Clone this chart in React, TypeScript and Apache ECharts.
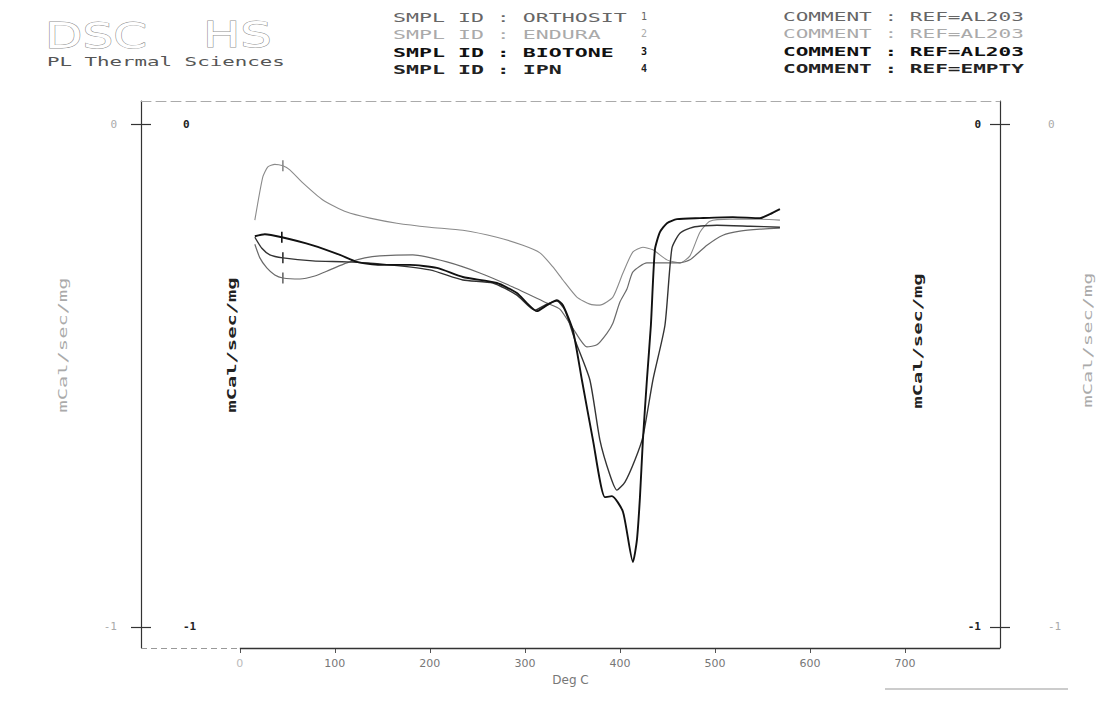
import React, { useEffect, useRef } from "react";
import * as echarts from "echarts";

// ---- Data ----
const sampleIds = ["ORTHOSIT", "ENDURA", "BIOTONE", "IPN"];
const sampleNums = ["1", "2", "3", "4"];
const comments = ["REF=AL203", "REF=AL203", "REF=AL203", "REF=EMPTY"];
const xTicks = [0, 100, 200, 300, 400, 500, 600, 700];
const yTicks = [-1, 0];

const orthositT = [15.8, 21.1, 28.4, 36.8, 45.3, 63.2, 78.9, 94.7, 112.6, 131.6, 147.4, 182.1, 217.9, 252.6, 287.4, 323.2, 336.8, 350.5, 365.3, 375.8, 386.3, 392.6, 400, 407.4, 413.7, 428.4, 449.5, 463.2, 473.7, 491.6, 508.4, 526.3, 547.4, 568.4];
const orthositV = [-0.239, -0.266, -0.286, -0.3, -0.306, -0.308, -0.302, -0.29, -0.276, -0.266, -0.262, -0.26, -0.274, -0.296, -0.324, -0.356, -0.368, -0.406, -0.443, -0.439, -0.416, -0.396, -0.354, -0.328, -0.294, -0.276, -0.276, -0.276, -0.27, -0.241, -0.221, -0.213, -0.209, -0.207];

const enduraT = [15.8, 24.2, 29.5, 36.8, 45.3, 52.6, 66.3, 87.4, 112.6, 136.8, 165.3, 200, 234.7, 270.5, 297.9, 315.8, 329.5, 340, 354.7, 368.4, 378.9, 392.6, 403.2, 413.7, 424.2, 434.7, 449.5, 463.2, 473.7, 484.2, 494.7, 515.8, 547.4, 568.4];
const enduraV = [-0.191, -0.105, -0.085, -0.08, -0.083, -0.091, -0.117, -0.151, -0.175, -0.187, -0.197, -0.205, -0.211, -0.225, -0.241, -0.256, -0.284, -0.31, -0.344, -0.358, -0.36, -0.344, -0.296, -0.254, -0.245, -0.25, -0.27, -0.276, -0.262, -0.215, -0.193, -0.189, -0.189, -0.191];

const biotoneT = [15.8, 26.3, 44.2, 76.8, 105.3, 123.2, 147.4, 178.9, 207.4, 234.7, 270.5, 291.6, 302.1, 312.6, 323.2, 333.7, 340, 350.5, 360, 371.6, 384.2, 391.6, 403.2, 413.7, 417.9, 421.1, 424.2, 428.4, 432.6, 436.8, 442.1, 449.5, 460, 484.2, 518.9, 547.4, 557.9, 568.4];
const biotoneV = [-0.223, -0.219, -0.225, -0.241, -0.26, -0.274, -0.28, -0.28, -0.286, -0.304, -0.316, -0.336, -0.356, -0.372, -0.36, -0.35, -0.36, -0.41, -0.509, -0.628, -0.742, -0.74, -0.771, -0.871, -0.827, -0.742, -0.628, -0.509, -0.4, -0.25, -0.215, -0.197, -0.189, -0.187, -0.185, -0.187, -0.179, -0.169];

const ipnT = [15.8, 23.2, 31.6, 45.3, 76.8, 112.6, 147.4, 200, 234.7, 266.3, 291.6, 310.5, 323.2, 333.7, 342.1, 352.6, 368.4, 378.9, 389.5, 396.8, 405.3, 415.8, 424.2, 434.7, 447.4, 454.7, 463.2, 476.8, 502.1, 536.8, 568.4];
const ipnV = [-0.225, -0.247, -0.26, -0.266, -0.272, -0.274, -0.278, -0.29, -0.31, -0.316, -0.34, -0.37, -0.358, -0.352, -0.37, -0.429, -0.509, -0.628, -0.698, -0.728, -0.712, -0.668, -0.622, -0.509, -0.4, -0.247, -0.217, -0.205, -0.201, -0.203, -0.205];

// ---- Layout / style ----
const X_MIN = -104;
const X_MAX = 800;
const Y_MIN = -1.042;
const Y_MAX = 0.046;
const MARK_T = 45;
const mono = '"DejaVu Sans Mono", monospace';
const sans = '"DejaVu Sans", sans-serif';

const curves = [
  { name: sampleIds[0], t: orthositT, v: orthositV, color: "#6a6a6a", width: 1.2, z: 3 },
  { name: sampleIds[1], t: enduraT, v: enduraV, color: "#8a8a8a", width: 1.1, z: 2 },
  { name: sampleIds[2], t: biotoneT, v: biotoneV, color: "#111111", width: 1.9, z: 5 },
  { name: sampleIds[3], t: ipnT, v: ipnV, color: "#333333", width: 1.4, z: 4 },
];

type TOpts = {
  sx?: number; rot?: number; fill?: string; weight?: string; size?: number;
  family?: string; align?: string; stroke?: string; lw?: number;
};
function txt(text: string, x: number, y: number, o: TOpts = {}) {
  const style: any = {
    text,
    fill: o.fill ?? "#555",
    font: `${o.weight ?? "normal"} ${o.size ?? 13}px ${o.family ?? mono}`,
    align: o.align ?? "left",
    verticalAlign: "middle",
  };
  if (o.stroke) {
    style.stroke = o.stroke;
    style.lineWidth = o.lw ?? 1;
  }
  return {
    type: "text",
    x,
    y,
    scaleX: o.sx ?? 1,
    rotation: o.rot ?? 0,
    silent: true,
    style,
  };
}

function yAxisDef(position: string, inside: boolean, color: string, bold: boolean, margin: number, showLine: boolean) {
  return {
    type: "value",
    position,
    min: Y_MIN,
    max: Y_MAX,
    splitLine: { show: false },
    axisLine: { show: showLine, onZero: false, lineStyle: { color: "#333", width: 1.2 } },
    axisTick: { show: true, inside, length: 10, customValues: yTicks, lineStyle: { color: "#333", width: 1.2 } },
    axisLabel: {
      inside,
      margin,
      customValues: yTicks,
      color,
      fontWeight: bold ? "bold" : "normal",
      fontSize: 11,
      fontFamily: mono,
    },
  };
}

export default function App() {
  const ref = useRef<HTMLDivElement>(null);

  useEffect(() => {
    if (!ref.current) return;
    const chart = echarts.init(ref.current, undefined, { renderer: "svg" });

    const rowY = [17, 34, 52, 69];
    const rowColor = ["#666", "#aaa", "#111", "#222"];
    const rowWeight = ["normal", "normal", "bold", "bold"];

    const graphic: any[] = [
      txt("DSC", 45, 35, { size: 36, family: sans, sx: 1.35, fill: "#fff", stroke: "#909090", lw: 0.9 }),
      txt("HS", 203, 35, { size: 36, family: sans, sx: 1.38, fill: "#fff", stroke: "#909090", lw: 0.9 }),
      txt("PL Thermal Sciences", 47, 62, { size: 13, sx: 1.6, fill: "#555" }),
      { type: "line", silent: true, shape: { x1: 885, y1: 689, x2: 1068, y2: 689 }, style: { stroke: "#999", lineWidth: 1 } },
      txt("mCal/sec/mg", 63, 345, { rot: Math.PI / 2, align: "center", size: 12, sx: 1.7, fill: "#aaa" }),
      txt("mCal/sec/mg", 232, 345, { rot: Math.PI / 2, align: "center", size: 12, sx: 1.7, fill: "#222", weight: "bold" }),
      txt("mCal/sec/mg", 918, 341, { rot: Math.PI / 2, align: "center", size: 12, sx: 1.7, fill: "#222", weight: "bold" }),
      txt("mCal/sec/mg", 1088, 340, { rot: Math.PI / 2, align: "center", size: 12, sx: 1.7, fill: "#aaa" }),
    ];
    for (let i = 0; i < 4; i++) {
      const o = { fill: rowColor[i], weight: rowWeight[i], size: 13 };
      graphic.push(txt(`SMPL ID : ${sampleIds[i]}`, 393, rowY[i], { ...o, sx: 1.66 }));
      graphic.push(txt(sampleNums[i], 641, rowY[i] - 1, { ...o, size: 10 }));
      graphic.push(txt(`COMMENT : ${comments[i]}`, 783, rowY[i], { ...o, sx: 1.62 }));
    }

    const series: any[] = curves.map((c) => {
      const data = c.t.map((t, i) => [t, c.v[i]]);
      let mi = 0;
      c.t.forEach((t, i) => {
        if (Math.abs(t - MARK_T) < Math.abs(c.t[mi] - MARK_T)) mi = i;
      });
      return {
        type: "line",
        name: c.name,
        data,
        showSymbol: false,
        smooth: 0.2,
        z: c.z,
        lineStyle: { color: c.color, width: c.width },
        itemStyle: { color: c.color },
        markPoint: {
          silent: true,
          symbol: "rect",
          symbolSize: [1.6, 11],
          itemStyle: { color: c.color },
          label: { show: false },
          data: [{ coord: data[mi] }],
        },
      };
    });

    // bottom frame: dashed left of 0 °C, solid from 0 °C on
    series[0].markLine = {
      silent: true,
      symbol: "none",
      label: { show: false },
      animation: false,
      data: [
        [
          { coord: [X_MIN, Y_MIN], lineStyle: { color: "#999", width: 1, type: [6, 4] } },
          { coord: [xTicks[0], Y_MIN] },
        ],
        [
          { coord: [xTicks[0], Y_MIN], lineStyle: { color: "#333", width: 1.3, type: "solid" } },
          { coord: [X_MAX, Y_MIN] },
        ],
      ],
    };

    chart.setOption({
      animation: false,
      backgroundColor: "#fff",
      grid: { left: 141, right: 96, top: 101, bottom: 56, containLabel: false },
      xAxis: [
        {
          type: "value",
          position: "bottom",
          min: X_MIN,
          max: X_MAX,
          splitLine: { show: false },
          axisLine: { show: false, onZero: false },
          axisTick: { customValues: xTicks, length: 5, lineStyle: { color: "#555" } },
          axisLabel: {
            customValues: xTicks,
            margin: 10,
            fontSize: 11,
            fontFamily: sans,
            color: (v: any) => (Number(v) === 0 ? "#bbb" : "#777"),
          },
          name: "Deg C",
          nameLocation: "middle",
          nameGap: 26,
          nameTextStyle: { color: "#777", fontSize: 12, fontFamily: sans },
        },
        {
          type: "value",
          position: "top",
          min: X_MIN,
          max: X_MAX,
          splitLine: { show: false },
          axisLine: { onZero: false, lineStyle: { color: "#aaa", width: 1, type: [10, 5] } },
          axisTick: { show: false },
          axisLabel: { show: false },
        },
      ],
      yAxis: [
        yAxisDef("left", false, "#aaa", false, 24, true),
        yAxisDef("left", true, "#222", true, 42, false),
        yAxisDef("right", false, "#aaa", false, 48, true),
        yAxisDef("right", true, "#222", true, 19, false),
      ],
      series,
      graphic,
    });

    return () => chart.dispose();
  }, []);

  return (
    <div
      ref={ref}
      style={{ position: "fixed", left: 0, top: 0, width: 1096, height: 704, background: "#fff" }}
    />
  );
}
